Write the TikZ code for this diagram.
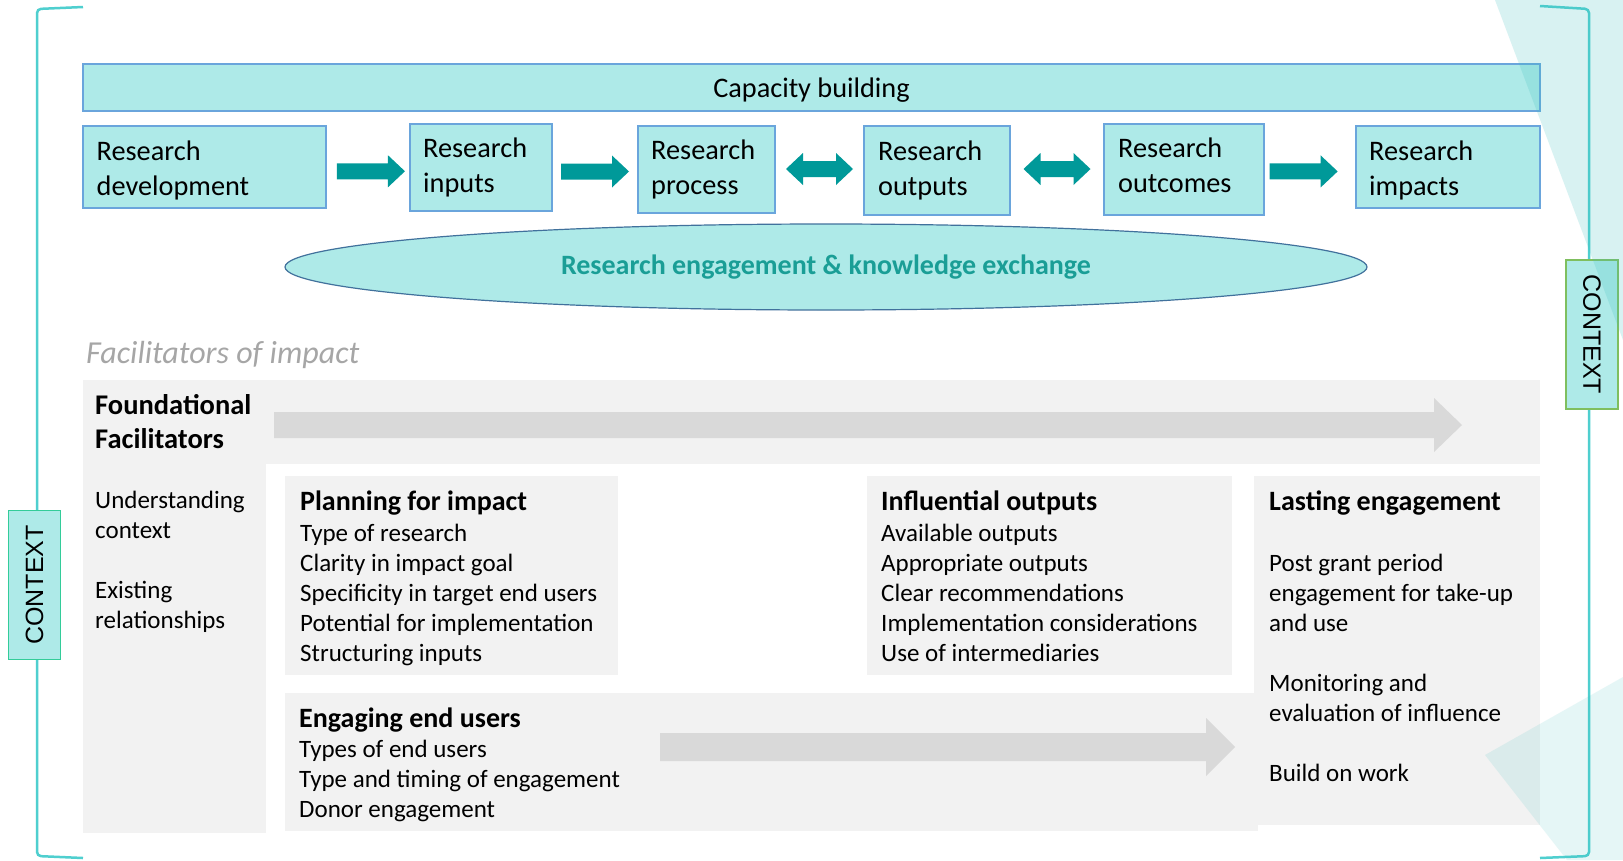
\documentclass[tikz,border=0pt]{standalone}
\usepackage{fontspec}
\setmainfont{Carlito}
\newfontfamily\ctxfont{Liberation Sans}
\usetikzlibrary{shapes.geometric,calc}
\definecolor{boxfill}{HTML}{AEEAE8}
\definecolor{boxline}{HTML}{6AA5DC}
\definecolor{arrteal}{HTML}{009999}
\definecolor{ellline}{HTML}{41719C}
\definecolor{elltext}{HTML}{1A9E96}
\definecolor{brack}{HTML}{4FCFCF}
\definecolor{ctxleft}{HTML}{33CC99}
\definecolor{ctxright}{HTML}{7FBF5F}
\definecolor{grayfill}{HTML}{F2F2F2}
\definecolor{grayarrow}{HTML}{D9D9D9}
\definecolor{faccol}{HTML}{A6A6A6}
\definecolor{deco}{HTML}{3CBEBE}
\begin{document}
\begin{tikzpicture}[x=1pt,y=-1pt,
  rbox/.style 2 args={draw=boxline, line width=1.5pt, fill=boxfill, inner sep=0pt,
    minimum width=#1, minimum height=#2},
  rtxt/.style={inner sep=0pt, anchor=north west, align=left, font=\fontsize{28.3}{35}\selectfont},
  ttl/.style={inner sep=0pt, anchor=base west, font=\bfseries\fontsize{28}{34}\selectfont},
  lst/.style={inner sep=0pt, anchor=north west, align=left, font=\fontsize{25}{30}\selectfont},
  ctx/.style={fill=boxfill, line width=1.8pt, minimum width=149pt, minimum height=52pt, inner sep=0pt,
    font=\ctxfont\fontsize{25}{30}\selectfont},
  brk/.style={draw=brack, line width=2.5pt, rounded corners=4pt},
  rarrow/.pic={\fill[arrteal] (-34,-8) -- (17,-8) -- (17,-16) -- (34,0) -- (17,16) -- (17,8) -- (-34,8) -- cycle;},
  darrow/.pic={\fill[arrteal] (-33.5,0) -- (-16.5,-16) -- (-16.5,-8) -- (16.5,-8) -- (16.5,-16) -- (33.5,0) -- (16.5,16) -- (16.5,8) -- (-16.5,8) -- (-16.5,16) -- cycle;}
]
\useasboundingbox[fill=white] (0,0) rectangle (1623,860);

% brackets
\coordinate (lbt) at (83,7);
\coordinate (lbb) at (83,858);
\coordinate (rbt) at (1540,6);
\coordinate (rbb) at (1540,858);
\draw[brk] (lbt) -- (37,9) -- (37,856) -- (lbb);
\draw[brk] (rbt) -- (1589,9) -- (1589,856) -- (rbb);

% top row
\node[rbox={1457pt}{47pt}] (cap) at (811.5,87.5) {};
\node[inner sep=0pt, font=\fontsize{28.3}{35}\selectfont] (captxt) at (811.5,90) {Capacity building};

\node[rbox={243pt}{82pt}] (rd) at (204.5,167) {};
\node[rbox={142pt}{87pt}] (ri) at (481,167.5) {};
\node[rbox={137pt}{87pt}] (rp) at (706.5,169.5) {};
\node[rbox={146pt}{89pt}] (ro) at (937,170.5) {};
\node[rbox={160pt}{91pt}] (roc) at (1184,169.5) {};
\node[rbox={184pt}{82pt}] (rim) at (1448,167) {};

\node[rtxt] (rdt) at (96.5,136) {\strut Research\\development};
\node[rtxt] (rit) at (423,133) {\strut Research\\inputs};
\node[rtxt] (rpt) at (651,135) {\strut Research\\process};
\node[rtxt] (rot) at (878,136) {\strut Research\\outputs};
\node[rtxt] (roct) at (1118,133) {\strut Research\\outcomes};
\node[rtxt] (rimt) at (1369,136) {\strut Research\\impacts};

\pic at ($(rd.east)!0.536!(ri.west)+(0,4)$) {rarrow};
\pic at ($(ri.east)!0.5!(rp.west)+(0,3)$) {rarrow};
\pic at ($(rp.east)!0.5!(ro.west)+(0,-1)$) {darrow};
\pic at ($(ro.east)!0.5!(roc.west)+(0,-1)$) {darrow};
\pic at ($(roc.east)!0.43!(rim.west)+(0,3)$) {rarrow};

\node[ellipse, draw=ellline, line width=1.2pt, fill=boxfill, minimum width=1082pt, minimum height=86pt,
  inner sep=0pt, text=elltext, font=\bfseries\fontsize{28}{34}\selectfont] (rek) at (826,267)
  {Research engagement \& knowledge exchange};

% facilitators
\node[anchor=west, inner sep=0pt, text=faccol, font=\itshape\fontsize{32}{38}\selectfont] (fac) at (86,355)
  {Facilitators of impact};

\fill[grayfill] (83,380) rectangle (266,833);
\fill[grayfill] (266,380) rectangle (1540,464);
\fill[grayarrow] (274,412) -- (1434,412) -- (1434,398) -- (1462,425) -- (1434,452) -- (1434,438) -- (274,438) -- cycle;

\fill[grayfill] (285,476) rectangle (618,675);
\fill[grayfill] (867,476) rectangle (1232,675);
\fill[grayfill] (285,693) rectangle (1258,831);
\fill[grayfill] (1254,476) rectangle (1540,825);
\fill[grayarrow] (660,733) -- (1206,733) -- (1206,718) -- (1235,747) -- (1206,776) -- (1206,761) -- (660,761) -- cycle;

\node[inner sep=0pt, anchor=north west, align=left, font=\bfseries\fontsize{28.5}{34}\selectfont] (ff) at (95,390.2)
  {\strut Foundational\\Facilitators};
\node[lst] (ffl) at (95,487) {\strut Understanding\\context\\[30pt]Existing\\relationships};

\node[ttl] (pft) at (300,510) {Planning for impact};
\node[lst] (pfl) at (300,520) {\strut Type of research\\Clarity in impact goal\\Specificity in target end users\\Potential for implementation\\Structuring inputs};

\node[ttl] (iot) at (881,510) {Influential outputs};
\node[lst] (iol) at (881,520) {\strut Available outputs\\Appropriate outputs\\Clear recommendations\\Implementation considerations\\Use of intermediaries};

\node[ttl] (let) at (1269,510) {Lasting engagement};
\node[lst] (lel) at (1269,550) {\strut Post grant period\\engagement for take-up\\and use\\[30pt]Monitoring and\\evaluation of influence\\[30pt]Build on work};

\node[ttl] (eut) at (299,727) {Engaging end users};
\node[lst] (eul) at (299,736) {\strut Types of end users\\Type and timing of engagement\\Donor engagement};

% context labels
\node[ctx, draw=ctxleft, rotate=90] (ctxL) at (34.5,585) {CONTEXT};
\node[ctx, draw=ctxright, rotate=-90] (ctxR) at (1592,334.5) {CONTEXT};

% decorative triangles
\fill[deco, opacity=0.2] (1495,0) -- (1623,0) -- (1623,340) -- cycle;
\fill[deco, opacity=0.13] (1485,755) -- (1623,677) -- (1623,860) -- (1567,860) -- cycle;
\end{tikzpicture}
\end{document}
